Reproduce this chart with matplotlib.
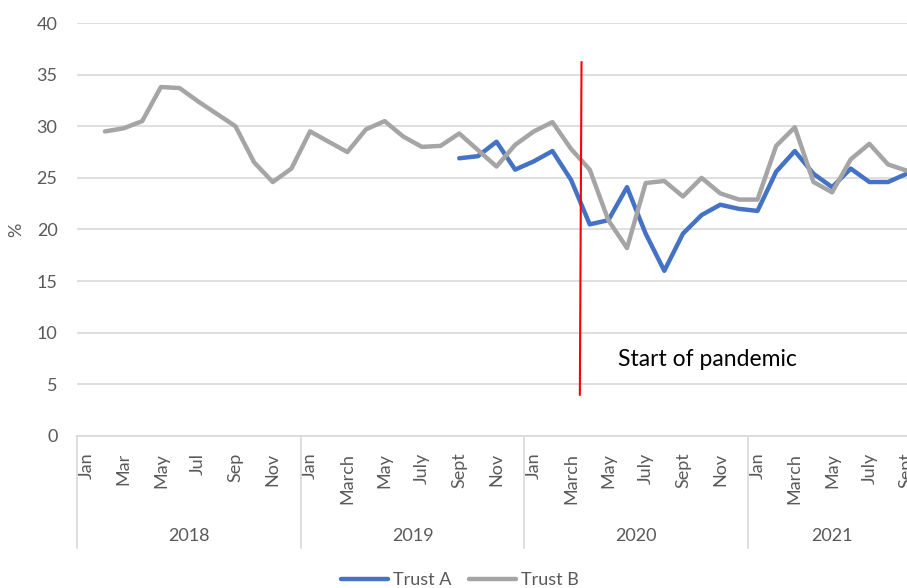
import numpy as np
import matplotlib
matplotlib.use('Agg')
import matplotlib.pyplot as plt
import matplotlib.transforms as mtransforms

plt.rcParams['font.family'] = ['Lato', 'DejaVu Sans']

# categories: Jan 2018 .. Sept 2021 (45 months)
years = ['2018', '2019', '2020', '2021']
months_per_year = [12, 12, 12, 9]
labels_2018 = ['Jan', '', 'Mar', '', 'May', '', 'Jul', '', 'Sep', '', 'Nov', '']
labels_later = ['Jan', '', 'March', '', 'May', '', 'July', '', 'Sept', '', 'Nov', '']

# Trust B starts Feb 2018
trust_b = [np.nan, 29.5, 29.8, 30.5, 33.8, 33.7, 32.4, 31.2, 30.0, 26.5, 24.6, 25.9,
           29.5, 28.5, 27.5, 29.7, 30.5, 29.0, 28.0, 28.1, 29.3, 27.7, 26.1, 28.2,
           29.5, 30.4, 27.8, 25.8, 20.9, 18.2, 24.5, 24.7, 23.2, 25.0, 23.5, 22.9,
           22.9, 28.1, 29.9, 24.6, 23.6, 26.8, 28.3, 26.3, 25.7]
# Trust A starts Sept 2019
trust_a = [np.nan] * 20 + [26.9, 27.1, 28.5, 25.8,
           26.6, 27.6, 24.8, 20.5, 20.9, 24.1, 19.6, 16.0, 19.6, 21.4, 22.4, 22.0,
           21.8, 25.6, 27.6, 25.4, 24.1, 25.9, 24.6, 24.6, 25.4]

pandemic_x = [26.56, 26.47]
pandemic_y = [36.2, 4.0]
pandemic_text = 'Start of pandemic'

month_labels = labels_2018 + labels_later * 2 + labels_later[:9]
n = len(month_labels)
x = np.arange(n)

txt = '#595959'
grid = '#d9d9d9'

fig = plt.figure(figsize=(9.07, 5.88), dpi=100)
ax = fig.add_axes([77 / 907, 152 / 588, 839 / 907, 413 / 588])

ax.plot(x, trust_a, color='#4472C4', lw=3.2, solid_joinstyle='round', solid_capstyle='round', label='Trust A', zorder=3)
ax.plot(x, trust_b, color='#A5A5A5', lw=3.2, solid_joinstyle='round', solid_capstyle='round', label='Trust B', zorder=3)
ax.plot(pandemic_x, pandemic_y, color='#FF0000', lw=1.5, zorder=4)
ax.text(28.5, 7.4, pandemic_text, fontsize=16.5, color='black', ha='left', va='center')

ax.set_xlim(-0.5, n - 0.5)
ax.set_ylim(0, 40)
ax.set_yticks(range(0, 41, 5))
ax.yaxis.grid(True, color=grid, lw=1.2)
ax.set_axisbelow(True)
for s in ['top', 'right', 'left']:
    ax.spines[s].set_visible(False)
ax.spines['bottom'].set_color(grid)
ax.spines['bottom'].set_linewidth(1.2)

ax.set_xticks(x)
ax.set_xticklabels(month_labels, rotation=90, fontsize=13, color=txt)
ax.tick_params(axis='x', length=0, pad=12)
ax.tick_params(axis='y', length=0, pad=14, labelsize=13, labelcolor=txt)
ax.set_ylabel('%', fontsize=13, color=txt, labelpad=9)

# year groups
trans = mtransforms.blended_transform_factory(ax.transData, ax.transAxes)
start = 0
for yr, cnt in zip(years, months_per_year):
    ax.plot([start - 0.5, start - 0.5], [0, -0.271], transform=trans, color=grid, lw=1.2, clip_on=False)
    ax.text(start + cnt / 2 - 0.5, -0.242, yr, transform=trans, ha='center', va='center', fontsize=13, color=txt)
    start += cnt

leg = fig.legend(loc='center', bbox_to_anchor=(460 / 907, 8 / 588), ncol=2, frameon=False,
                 fontsize=13, handlelength=2.6, handletextpad=0.25, columnspacing=1.0)
for t in leg.get_texts():
    t.set_color(txt)

fig.savefig('out.png', dpi=100)
